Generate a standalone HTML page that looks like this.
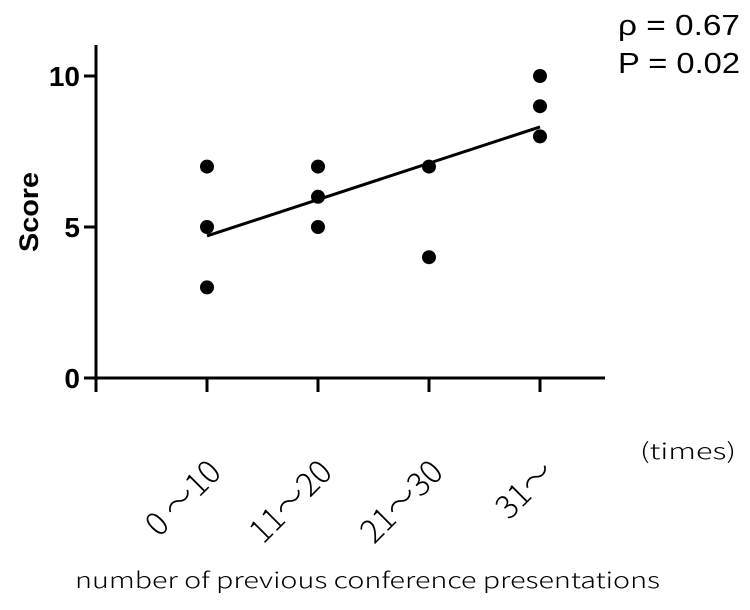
<!DOCTYPE html>
<html><head><meta charset="utf-8"><style>
html,body{margin:0;padding:0;background:#fff;}
svg text{font-family:"Liberation Sans","Noto Sans CJK JP",sans-serif;fill:#000;}
svg text.jp{font-family:"Noto Sans CJK JP","Liberation Sans",sans-serif;}
</style></head><body>
<svg id="chart" width="750" height="605" viewBox="0 0 750 605" xmlns="http://www.w3.org/2000/svg">
<g id="axes"></g>
<g id="marks"></g>
<text x="0" y="0" transform="translate(38,212) rotate(-90)" text-anchor="middle" font-size="27" font-weight="bold" textLength="80" lengthAdjust="spacingAndGlyphs">Score</text>
<text class="jp" x="640" y="459" font-size="22" font-weight="300" textLength="96" lengthAdjust="spacingAndGlyphs">(times)</text>
<text class="jp" x="75" y="588" font-size="22" font-weight="300" textLength="585" lengthAdjust="spacingAndGlyphs">number of previous conference presentations</text>
<text x="618" y="35" font-size="29" textLength="122" lengthAdjust="spacingAndGlyphs">ρ = 0.67</text>
<text x="618" y="73" font-size="29" textLength="122" lengthAdjust="spacingAndGlyphs">P = 0.02</text>
</svg>
<script>
const categories = ["0 ～10", "11～20", "21～30", "31～"];
const pointCategory = [0, 0, 0, 1, 1, 1, 2, 2, 3, 3, 3];
const pointScore = [7, 5, 3, 7, 6, 5, 7, 4, 10, 9, 8];
const yTicks = [0, 5, 10];

const NS = "http://www.w3.org/2000/svg";
const axes = document.getElementById('axes');
const marks = document.getElementById('marks');
const x0 = 96, y0 = 378;
function xPos(i){ return 207 + i * 111; }
function yPos(v){ return y0 - v * 30.2; }
function mk(tag, attrs, parent){ const e = document.createElementNS(NS, tag); for (const k in attrs) e.setAttribute(k, attrs[k]); parent.appendChild(e); return e; }

let e = mk('line', {x1:x0, y1:45, x2:x0, y2:392, stroke:'#000', 'stroke-width':3}, axes);


e = mk('line', {x1:84, y1:y0, x2:605, y2:y0, stroke:'#000', 'stroke-width':3}, axes);



yTicks.forEach(v => {
  const t = mk('line', {x1:84, y1:yPos(v), x2:x0, y2:yPos(v), stroke:'#000', 'stroke-width':3}, axes);
  
  
  const l = mk('text', {x:80, y:yPos(v) + 10, 'text-anchor':'end', 'font-size':28, 'font-weight':'bold'}, axes);
  l.textContent = String(v);
  
  
});

categories.forEach((c, i) => {
  const t = mk('line', {x1:xPos(i), y1:y0, x2:xPos(i), y2:392, stroke:'#000', 'stroke-width':3}, axes);
  
  
  const l = mk('text', {x:0, y:0, 'class':'jp', 'text-anchor':'end', 'font-size':32, 'font-weight':300, transform:'translate(' + (xPos(i) + 16) + ',474) rotate(-45)'}, axes);
  l.textContent = c;
  
  
});

const n = pointScore.length;
let sx = 0, sy = 0, sxy = 0, sxx = 0;
for (let k = 0; k < n; k++){ const xv = pointCategory[k], yv = pointScore[k]; sx += xv; sy += yv; sxy += xv*yv; sxx += xv*xv; }
const slope = (n*sxy - sx*sy) / (n*sxx - sx*sx);
const icpt = (sy - slope*sx) / n;
const lastIdx = categories.length - 1;
e = mk('line', {x1:xPos(0), y1:yPos(icpt), x2:xPos(lastIdx), y2:yPos(icpt + slope*lastIdx), stroke:'#000', 'stroke-width':3}, marks);



for (let k = 0; k < n; k++){
  const p = mk('circle', {cx:xPos(pointCategory[k]), cy:yPos(pointScore[k]), r:7, fill:'#000'}, marks);
  
  
}
</script>
</body></html>
